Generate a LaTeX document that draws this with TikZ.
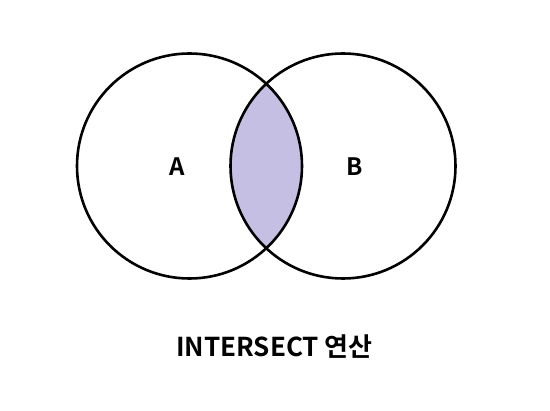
\documentclass[tikz,border=0pt]{standalone}
\usepackage{fontspec}
\setmainfont{Noto Sans CJK KR}[BoldFont={* Bold}]
\definecolor{lens}{HTML}{C6BFE4}
\begin{document}
\begin{tikzpicture}[x=1pt,y=-1pt,
  ring/.style={draw=black,line width=2.6pt},
  lbl/.style={font=\bfseries\fontsize{24}{28}\selectfont,inner sep=0pt}]
\useasboundingbox[fill=white] (0,0) rectangle (550,411);
\coordinate (ca) at (189.5,166);
\coordinate (cb) at (343,166);
\begin{scope}
  \clip (ca) circle[radius=112.5];
  \fill[lens] (cb) circle[radius=112.5];
\end{scope}
\draw[ring] (ca) circle[radius=112.5];
\draw[ring] (cb) circle[radius=112.5];
\node[lbl] (A) at (177,167) {A};
\node[lbl] (B) at (355,167) {B};
\node[lbl,font=\bfseries\fontsize{26}{30}\selectfont] (T) at (274.5,347) {INTERSECT 연산};
\end{tikzpicture}
\end{document}
